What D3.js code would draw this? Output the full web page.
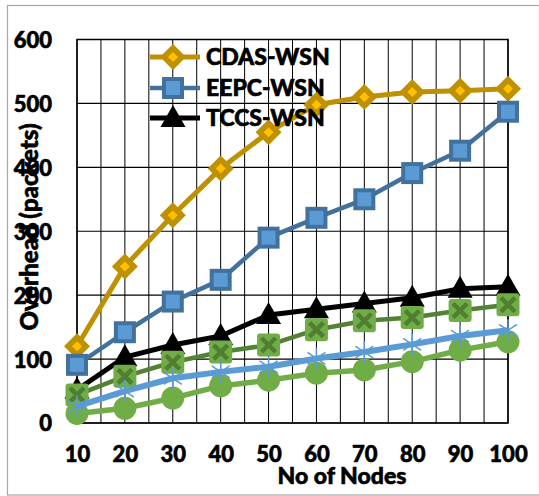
<!DOCTYPE html>
<html>
<head>
<meta charset="utf-8" />
<title>Overhead chart</title>
<script src="https://cdn.jsdelivr.net/npm/d3@7/dist/d3.min.js"></script>
<style>
    body { margin: 0; background: #fff; }
    text { font-family: Lato, "Liberation Sans", Arial, sans-serif; font-weight: 900; fill: #000;
           stroke: #000; stroke-width: 0.6px; }
</style>
</head>
<body>
</body>
<script>
    var nodes = [10, 20, 30, 40, 50, 60, 70, 80, 90, 100]
    var cdas = [120, 245, 325, 398, 455, 498, 510, 518, 520, 523]
    var eepc = [91, 142, 190, 224, 290, 321, 350, 391, 426, 487]
    var tccs = [52, 103, 122, 136, 169, 178, 187, 196, 210, 213]
    var greenX = [44, 73, 95, 111, 122, 146, 160, 165, 176, 185]
    var blueStar = [26, 50, 70, 80, 88, 101, 111, 123, 136, 145]
    var greenDot = [15, 23, 39, 58, 67, 78, 83, 96, 114, 127]
    var yTicks = [0, 100, 200, 300, 400, 500, 600]
    var legendNames = ["CDAS-WSN", "EEPC-WSN", "TCCS-WSN"]

    var W = 539, H = 496
    var plot = { left: 77, right: 508, top: 39.5, bottom: 423 }
    var FONT = "Lato, Liberation Sans, Arial, sans-serif"

    var svg = d3.select("body").append("svg").attr("width", W).attr("height", H)

    svg.append("rect").attr("x", 7.5).attr("y", 5.5).attr("width", 532).attr("height", 489.5)
        .attr("fill", "#fff").attr("stroke", "#a6a6a6").attr("stroke-width", 1.2)

    var x = d3.scaleLinear().domain([10, 100]).range([plot.left, plot.right])
    var y = d3.scaleLinear().domain([0, 600]).range([plot.bottom, plot.top])

    // grid: vertical every 5 nodes, horizontal every 100
    var g = svg.append("g")
    g.selectAll(".vg").data(d3.range(10, 100.1, 5)).enter().append("line")
        .attr("x1", d => x(d)).attr("x2", d => x(d))
        .attr("y1", plot.top).attr("y2", plot.bottom)
        .attr("stroke", "#000").attr("stroke-width", 1)
    g.selectAll(".hg").data(yTicks).enter().append("line")
        .attr("x1", plot.left).attr("x2", plot.right)
        .attr("y1", d => y(d)).attr("y2", d => y(d))
        .attr("stroke", "#000").attr("stroke-width", 1.2)
    g.append("rect").attr("x", plot.left).attr("y", plot.top)
        .attr("width", plot.right - plot.left).attr("height", plot.bottom - plot.top)
        .attr("fill", "none").attr("stroke", "#000").attr("stroke-width", 1.5)

    // axes labels
    var yAxis = d3.axisLeft(y).tickValues(yTicks).tickSize(0).tickPadding(25)
    var ya = svg.append("g").attr("transform", "translate(" + plot.left + ",0)").call(yAxis)
    ya.select(".domain").remove()
    ya.selectAll("text").attr("font-size", 22).attr("dy", "0.36em")
        .style("font-family", FONT).style("font-weight", "900")

    var xAxis = d3.axisBottom(x).tickValues(nodes).tickSize(0).tickPadding(23)
    var xa = svg.append("g").attr("transform", "translate(0," + plot.bottom + ")").call(xAxis)
    xa.select(".domain").remove()
    xa.selectAll("text").attr("font-size", 22)
        .style("font-family", FONT).style("font-weight", "900")

    svg.append("text").attr("x", 342).attr("y", 484).attr("text-anchor", "middle")
        .attr("font-size", 23).text("No of Nodes")
    svg.append("text").attr("transform", "translate(38,227) rotate(-90)").attr("text-anchor", "middle")
        .attr("font-size", 24).text("Overhead (packets)")

    var line = d3.line().x((d, i) => x(nodes[i])).y(d => y(d))

    function drawMarker(sel, kind, cx, cy) {
        var m = sel.append("g").attr("transform", "translate(" + cx + "," + cy + ")")
        if (kind == "diamond") {
            m.append("path").attr("d", "M0,-13L13,0L0,13L-13,0Z").attr("fill", "#bf9000")
            m.append("path").attr("d", "M0,-5L5,0L0,5L-5,0Z").attr("fill", "#ffc000")
        } else if (kind == "square") {
            m.append("rect").attr("x", -9).attr("y", -9).attr("width", 18).attr("height", 18)
                .attr("fill", "#5b9bd5").attr("stroke", "#41719c").attr("stroke-width", 4)
        } else if (kind == "triangle") {
            m.append("path").attr("d", "M0,-13L12.5,9L-12.5,9Z").attr("fill", "#000")
        } else if (kind == "xsquare") {
            m.append("rect").attr("x", -11.5).attr("y", -11.5).attr("width", 23).attr("height", 23).attr("rx", 3)
                .attr("fill", "#70ad47")
            m.append("path").attr("d", "M-7,-7L7,7M7,-7L-7,7").attr("stroke", "#507e32").attr("stroke-width", 4.5)
        } else if (kind == "star") {
            m.append("path").attr("d", "M-9,-6L9,6M9,-6L-9,6M0,-11L0,11")
                .attr("stroke", "#5b9bd5").attr("stroke-width", 1.5)
        } else if (kind == "dot") {
            m.append("circle").attr("r", 11.5).attr("fill", "#70ad47")
        }
    }

    var series = [
        { values: cdas, color: "#bf9000", width: 5, marker: "diamond" },
        { values: eepc, color: "#41719c", width: 4.5, marker: "square" },
        { values: tccs, color: "#000", width: 5, marker: "triangle" },
        { values: greenX, color: "#548235", width: 4.5, marker: "xsquare" },
        { values: greenDot, color: "#70ad47", width: 5.5, marker: "dot" },
        { values: blueStar, color: "#5b9bd5", width: 6, marker: "star" }
    ]

    series.forEach(function (s) {
        var sg = svg.append("g")
        sg.append("path").datum(s.values).attr("d", line).attr("fill", "none")
            .attr("stroke", s.color).attr("stroke-width", s.width).attr("stroke-linejoin", "round")
        s.values.forEach(function (v, i) {
            drawMarker(sg, s.marker, x(nodes[i]), y(v))
        })
    })

    // legend (first three series only)
    var legendY = [57, 88, 118]
    legendNames.forEach(function (name, i) {
        var s = series[i]
        var lg = svg.append("g")
        lg.append("line").attr("x1", 150).attr("x2", 200).attr("y1", legendY[i]).attr("y2", legendY[i])
            .attr("stroke", s.color).attr("stroke-width", s.width)
        drawMarker(lg, s.marker, 173, legendY[i])
        lg.append("text").attr("x", 206).attr("y", legendY[i] + 8).attr("font-size", 23).text(name)
    })
</script>
</html>
